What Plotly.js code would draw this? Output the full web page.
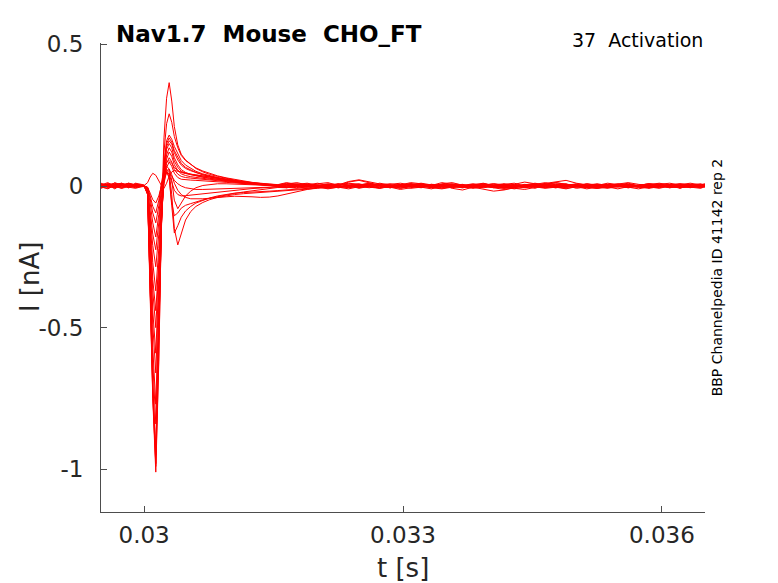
<!DOCTYPE html>
<html>
<head>
<meta charset="utf-8">
<script src="https://cdn.plot.ly/plotly-3.0.1.min.js"></script>
<style>html,body{margin:0;padding:0;background:#fff;}#chart{width:778px;height:583px;}</style>
</head>
<body>
<div id="chart"></div>
<script>
// time samples [s]
const time = [
  0.02950,0.02958,0.02966,0.02974,0.02982,0.02990,
  0.03000,0.03004,0.03007,0.03010,0.030135,0.03017,0.03020,0.03023,0.03026,0.03029,
  0.03032,0.03035,0.03039,0.03043,0.03048,0.03054,0.03060,0.03068,0.03076,0.03085,
  0.03095,0.03105,0.03115,0.03125,0.03135,0.03145,0.03155,
  0.03165,0.03177,0.03189,0.03201,0.03213,0.03225,0.03237,0.03249,0.03261,0.03273,
  0.03285,0.03297,0.03309,0.03321,0.03333,0.03345,0.03357,0.03369,0.03381,0.03393,
  0.03405,0.03417,0.03429,0.03441,0.03453,0.03465,0.03477,0.03489,0.03501,0.03513,
  0.03525,0.03537,0.03549,0.03561,0.03573,0.03585,0.03597,0.03609,0.03621,0.03633,
  0.03645,0.03650
];

// current sweeps [nA]
const sweep01 = [.008,-.004,.012,.002,-.006,.010,
  .004,-.03,-.38,-.75,-1.01,-.62,-.12,.17,.31,.365,.30,.21,.145,.112,.092,.076,.062,.05,.041,.034,.027,.021,.016,.012,.009,.007,.005,
  .012,.006,.010,.002,-.004,.008,.004,-.006,.002,.010,.004,-.008,.0,.006,-.004,.008,.012,.002,-.006,.004,-.002,.006,.010,.0,-.008,.004,.012,.006,-.002,.008,.002,-.006,.004,.010,.0,-.004,.006,.002,-.008,.004,.008,.002];
const sweep02 = [-.006,.004,-.010,.006,.0,-.004,
  .001,-.028,-.36,-.73,-.99,-.60,-.13,.12,.22,.255,.225,.175,.135,.108,.09,.076,.064,.053,.044,.036,.029,.023,.018,.013,.01,.007,.004,
  .010,.004,-.002,.008,.012,.002,.014,.02,.012,.004,-.006,.002,.008,-.004,-.010,.0,.006,-.002,.004,.010,.002,-.008,-.004,.006,.0,-.006,.004,.008,-.002,-.010,-.004,.004,.0,-.006,.002,.008,.004,-.004,.002,.006,-.002,.004];
const sweep03 = [.004,.012,-.002,-.008,.006,.002,
  .0,-.03,-.37,-.74,-.98,-.58,-.14,.08,.16,.18,.165,.14,.112,.09,.074,.062,.052,.043,.036,.03,.024,.019,.014,.01,.007,.004,.002,
  .0,-.006,.004,-.002,-.010,-.004,.002,-.008,.0,.006,-.004,-.012,-.006,.002,-.002,.004,-.008,-.014,-.004,.002,-.006,.0,.004,-.004,.002,.008,.0,-.006,.004,-.002,-.008,.0,.006,-.004,-.010,-.002,.004,-.006,.0,.004,-.004,.0];
const sweep04 = [-.002,-.010,.004,.010,-.004,.006,
  .002,-.027,-.35,-.71,-.95,-.56,-.14,.07,.15,.17,.155,.125,.1,.08,.066,.056,.048,.04,.034,.028,.023,.018,.013,.009,.006,.003,.001,
  -.004,.002,.008,.0,-.006,.004,.010,.006,-.002,-.008,.0,.004,.012,.008,.0,-.004,.002,.006,-.004,-.012,-.018,-.014,-.006,.002,.006,.012,.004,-.002,.002,.008,.004,-.004,-.010,-.002,.004,.0,-.006,.002,.008,.004,.0,-.004];
const sweep05 = [.010,.002,-.006,.004,.008,-.002,
  -.002,-.025,-.33,-.69,-.93,-.55,-.15,.06,.14,.16,.148,.118,.092,.074,.062,.054,.047,.04,.034,.029,.024,.019,.015,.011,.008,.005,.003,
  .008,.012,.004,-.002,.006,.002,-.004,.004,.010,.002,-.006,.0,.006,.010,.004,-.002,.004,-.004,.0,.008,.002,-.004,.006,.014,.008,.0,.006,.002,-.008,-.004,.002,.010,.006,.0,-.004,.004,.008,.0,-.006,-.002,.004,.008];
const sweep06 = [.0,.006,.002,-.008,-.002,.004,
  .001,-.022,-.29,-.62,-.84,-.50,-.14,.05,.13,.15,.135,.1,.075,.058,.048,.041,.036,.031,.027,.023,.019,.015,.011,.008,.005,.003,.001,
  .004,-.002,-.008,.0,.004,-.004,-.010,-.002,.006,.002,-.004,-.008,.0,.004,-.002,.002,.008,.004,-.006,-.002,.004,.0,-.008,-.012,-.004,.002,-.004,-.010,-.002,.004,.0,-.006,.002,.006,.002,-.004,-.008,.0,.004,-.002,-.006,.0];
const sweep07 = [-.008,.002,.008,.0,.010,.004,
  .0,-.02,-.26,-.57,-.77,-.46,-.13,.04,.11,.135,.12,.088,.066,.052,.045,.04,.036,.032,.028,.024,.02,.016,.012,.009,.006,.004,.002,
  .006,.0,.004,.010,.002,-.004,.004,.008,.0,-.006,.002,.006,.0,-.004,.002,.012,.006,.0,.004,.008,.002,.006,.0,-.004,.004,.010,.016,.020,.010,.004,-.002,.002,.008,.004,-.002,.002,.006,.010,.004,.0,.006,.002];
const sweep08 = [.006,-.004,.0,.008,-.006,.002,
  .002,-.018,-.22,-.49,-.66,-.40,-.12,.03,.095,.12,.105,.075,.055,.043,.037,.033,.03,.027,.024,.021,.018,.015,.012,.009,.006,.003,.001,
  -.002,-.008,-.002,.004,.0,-.006,-.002,.004,.008,.002,-.004,.0,.006,.002,-.006,-.010,-.004,.002,.0,-.004,.002,.006,.0,-.006,-.002,.004,.0,-.004,.002,-.002,-.008,-.004,.002,.006,.0,-.006,-.002,.004,.0,-.006,.002,.004];
const sweep09 = [.002,.008,.004,-.004,.002,.008,
  -.001,-.016,-.2,-.44,-.59,-.36,-.11,.02,.08,.1,.085,.058,.042,.034,.03,.028,.026,.024,.022,.019,.016,.013,.01,.007,.004,.002,.0,
  .004,.008,.002,-.004,.002,.006,.0,.004,-.004,-.008,-.002,.004,.008,.002,.006,.0,-.004,.002,.008,.004,.0,-.006,-.002,.004,.010,.004,-.002,.002,.006,.0,-.004,.002,.008,.012,.006,.002,-.004,.0,.006,.010,.004,.0];
const sweep10 = [-.004,-.008,.002,.006,.0,-.006,
  .001,-.014,-.17,-.37,-.50,-.30,-.09,.015,.065,.085,.07,.045,.03,.024,.022,.021,.02,.019,.017,.015,.013,.011,.008,.006,.004,.002,.0,
  -.006,.0,.004,-.002,-.008,-.004,.002,-.002,-.006,.0,.004,-.002,-.008,-.004,.0,.004,-.002,-.006,.0,.006,.002,-.004,-.010,-.004,.002,-.002,-.006,.0,.004,.0,-.004,-.008,-.002,.002,-.004,-.008,-.002,.004,.0,-.004,-.008,-.002];
const sweep11 = [.004,.0,-.006,.002,.008,.0,
  .0,-.012,-.15,-.33,-.44,-.27,-.08,.01,.05,.06,.04,.01,-.015,-.03,-.04,-.045,-.046,-.045,-.043,-.04,-.038,-.036,-.036,-.038,-.04,-.039,-.035,
  -.028,-.02,-.012,-.006,-.002,.002,-.004,.0,.006,.002,-.004,.002,.008,.004,-.002,.004,.0,-.006,-.002,.004,.008,.002,-.004,.0,.006,.002,-.004,-.008,-.002,.004,.008,.002,-.002,.004,.0,-.006,.0,.006,.002,-.004,.0,.006];
const sweep12 = [.0,.004,.010,.002,-.004,.004,
  .001,-.01,-.12,-.27,-.37,-.22,-.06,.03,.05,.03,-.06,-.105,-.095,-.078,-.068,-.062,-.056,-.049,-.043,-.037,-.031,-.026,-.021,-.017,-.013,-.009,-.005,
  -.006,.0,-.004,.002,.006,.0,-.006,-.002,.004,.0,-.004,.002,.006,.0,-.004,-.008,-.002,.004,.0,-.006,-.002,.002,-.004,.0,.006,.002,-.004,.0,.004,-.002,.002,.006,.0,-.004,.002,.006,.002,-.002,.004,.0,-.004,.002];
const sweep13 = [-.006,-.002,.004,-.004,.002,-.002,
  .0,-.008,-.1,-.21,-.285,-.17,-.04,.04,.055,.03,-.07,-.166,-.14,-.11,-.088,-.072,-.06,-.05,-.042,-.035,-.029,-.025,-.023,-.022,-.02,-.018,-.016,
  -.014,-.010,-.008,-.006,-.004,.0,-.004,.002,-.002,-.006,.0,.004,-.002,-.006,.0,.004,.0,-.004,.002,.006,.0,-.004,.0,.004,-.002,-.006,.0,.002,-.004,.0,.006,.002,-.002,.002,-.004,.0,.004,.0,-.006,-.002,.002,-.002];
const sweep14 = [.006,.002,-.004,.0,.006,.002,
  .001,-.007,-.08,-.17,-.225,-.13,-.02,.045,.06,.05,-.03,-.15,-.208,-.17,-.12,-.09,-.072,-.058,-.048,-.04,-.034,-.03,-.027,-.025,-.023,-.021,-.02,
  -.018,-.015,-.011,-.008,-.006,-.004,.0,-.004,.002,.006,.0,-.004,.002,.0,-.006,-.002,.004,.0,-.004,.0,.004,.008,.002,-.002,.004,.0,-.006,-.002,.002,-.004,.0,.004,.0,-.006,-.002,.004,.0,-.004,.002,.006,.0,-.002];
const sweep15 = [-.002,.006,.0,.004,-.004,-.008,
  .0,-.006,-.06,-.13,-.18,-.1,-.01,.05,.07,.06,.02,-.05,-.08,-.06,-.035,-.018,-.006,.002,.006,.008,.008,.007,.006,.005,.003,.002,.001,
  .004,.0,-.004,.002,.008,.004,.016,.022,.014,.006,.0,-.004,.002,.006,.0,-.006,.0,.004,-.002,.002,.008,.004,.0,-.004,.002,.008,.012,.006,.0,-.004,.002,.006,.002,-.004,.0,.006,.010,.004,.0,-.004,.002,.006];
const sweep16 = [.004,-.002,.006,.010,.002,.006,
  .001,-.005,-.045,-.095,-.13,-.07,.01,.06,.085,.09,.08,.065,.055,.048,.044,.042,.04,.036,.032,.027,.022,.017,.013,.01,.007,.004,.002,
  .006,.002,-.002,.004,.0,-.006,.0,.004,.008,.002,-.002,.004,.0,-.004,.002,.006,.002,-.002,-.008,-.004,.002,.006,.0,-.004,.0,.004,.008,.002,-.004,.0,.006,.0,-.004,-.002,.004,.008,.002,-.004,.0,.006,.002,-.002];
const sweep17 = [.0,-.004,.002,.008,.004,-.002,
  .002,.012,.032,.045,.038,.018,.002,-.008,.01,.035,.05,.055,.052,.048,.045,.042,.039,.035,.031,.026,.021,.017,.013,.009,.006,.004,.002,
  .002,.006,.0,-.004,.004,.008,.002,-.002,.004,.0,-.006,-.002,.004,.008,.002,.0,.006,.002,-.004,.0,-.006,-.012,-.006,.0,.006,.002,-.004,.002,.008,.004,.0,-.004,.002,.006,.0,-.006,.0,.004,.008,.002,-.002,.004];
const sweep18 = [-.004,.002,-.002,.004,.010,.004,
  .0,-.004,-.025,-.048,-.06,-.035,.0,.03,.045,.045,.035,.02,.008,.0,-.006,-.01,-.012,-.012,-.011,-.01,-.009,-.008,-.007,-.006,-.005,-.004,-.003,
  -.004,.002,.006,.0,-.004,.002,.008,.004,-.002,.002,.006,.010,.004,.0,.004,-.002,-.006,.0,.004,.0,-.004,.002,.006,.002,-.002,-.008,-.004,.002,.0,-.006,-.002,.004,.0,-.004,.002,.008,.004,.0,-.006,.0,.004,.0];
const sweep19 = [.002,.008,.002,-.004,.0,.006,
  .001,-.005,-.035,-.072,-.095,-.05,.005,.04,.05,.04,.015,-.015,-.03,-.035,-.034,-.032,-.03,-.027,-.024,-.021,-.018,-.015,-.012,-.009,-.007,-.005,-.003,
  .0,.004,-.002,-.006,.0,.006,.002,-.004,.0,.004,.008,.002,-.004,.0,.006,.004,-.002,.002,.006,.0,-.004,-.008,-.002,.004,.0,-.004,.002,.006,.0,-.004,-.008,-.002,.004,.0,-.002,.004,.0,-.006,-.002,.004,.0,.002];

const sweeps = [sweep01,sweep02,sweep03,sweep04,sweep05,sweep06,sweep07,sweep08,sweep09,sweep10,
                sweep11,sweep12,sweep13,sweep14,sweep15,sweep16,sweep17,sweep18,sweep19];

const xTickVals = [0.030, 0.033, 0.036];
const xTickText = ['0.03', '0.033', '0.036'];
const yTickVals = [0.5, 0, -0.5, -1];
const yTickText = ['0.5', '0', '-0.5', '-1'];

const titleText = 'Nav1.7\u00a0 Mouse\u00a0 CHO_FT';
const protocolText = '37\u00a0 Activation';
const sideText = 'BBP Channelpedia ID 41142 rep 2';

const data = sweeps.map(s => ({
  x: time.slice(0, s.length),
  y: s,
  type: 'scatter',
  mode: 'lines',
  line: {color: '#ff0000', width: 1},
  hoverinfo: 'skip',
  showlegend: false
}));

const axisCol = '#4d4d4d';
const textCol = '#262626';
const FONT = 'DejaVu Sans, Liberation Sans, sans-serif';

const layout = {
  width: 778, height: 583,
  margin: {l: 101, r: 73, t: 43, b: 71, pad: 0},
  paper_bgcolor: '#ffffff', plot_bgcolor: '#ffffff',
  showlegend: false,
  font: {family: FONT, color: textCol},
  xaxis: {
    range: [0.0295, 0.0365],
    tickmode: 'array', tickvals: xTickVals, ticktext: xTickText,
    ticks: 'inside', ticklen: 6, tickwidth: 1, tickcolor: axisCol,
    showline: true, linecolor: axisCol, linewidth: 1, mirror: false,
    showgrid: false, zeroline: false,
    tickfont: {family: FONT, size: 23, color: textCol},
    ticklabelstandoff: 2
  },
  yaxis: {
    range: [-1.1508, 0.505],
    tickmode: 'array', tickvals: yTickVals, ticktext: yTickText,
    ticks: 'inside', ticklen: 6, tickwidth: 1, tickcolor: axisCol,
    showline: true, linecolor: axisCol, linewidth: 1, mirror: false,
    showgrid: false, zeroline: false,
    tickfont: {family: FONT, size: 23, color: textCol},
    ticklabelstandoff: 12
  },
  annotations: [
    {text: '<b>' + titleText + '</b>', xref: 'paper', yref: 'paper', x: 0.0215, y: 1.0199,
     xanchor: 'left', yanchor: 'middle', showarrow: false,
     font: {family: FONT, size: 23, color: '#000000'}},
    {text: protocolText, xref: 'paper', yref: 'paper', x: 1.0005, y: 1.006,
     xanchor: 'right', yanchor: 'middle', showarrow: false,
     font: {family: FONT, size: 19, color: '#000000'}},
    {text: 't [s]', xref: 'paper', yref: 'paper', x: 0.5, y: -0.1195,
     xanchor: 'center', yanchor: 'middle', showarrow: false,
     font: {family: FONT, size: 26, color: textCol}},
    {text: 'I [nA]', xref: 'paper', yref: 'paper', x: -0.1182, y: 0.5,
     xanchor: 'center', yanchor: 'middle', textangle: -90, showarrow: false,
     font: {family: FONT, size: 26, color: textCol}},
    {text: sideText, xref: 'paper', yref: 'paper', x: 1.0196, y: 0.5,
     xanchor: 'center', yanchor: 'middle', textangle: -90, showarrow: false,
     font: {family: FONT, size: 14, color: '#000000'}}
  ]
};

Plotly.newPlot('chart', data, layout, {displayModeBar: false, staticPlot: true});
</script>
</body>
</html>
